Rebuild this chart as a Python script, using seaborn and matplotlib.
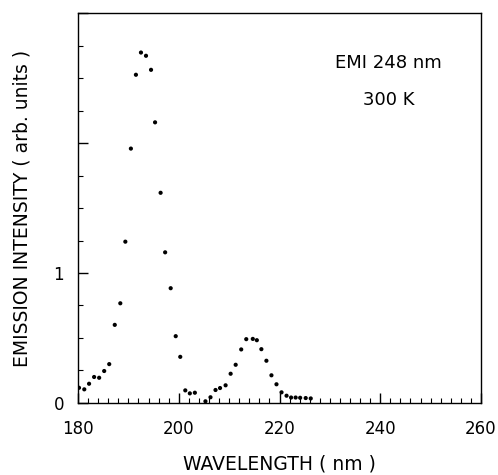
import matplotlib
matplotlib.use("Agg")
import matplotlib.pyplot as plt
from matplotlib.ticker import MultipleLocator, FixedLocator
import seaborn as sns
import pandas as pd

# Emission spectrum, excitation at 248 nm, room temperature
wavelength = [180.2, 181.25, 182.2, 183.2, 184.2, 185.2, 186.2, 187.3, 188.4, 189.4,
              190.5, 191.5, 192.5, 193.5, 194.5, 195.3, 196.4, 197.3, 198.4, 199.4,
              200.3, 201.3, 202.2, 203.2, 205.3, 206.3, 207.3, 208.2, 209.3, 210.3,
              211.3, 212.4, 213.4, 214.7, 215.5, 216.4, 217.4, 218.4, 219.4, 220.4,
              221.4, 222.3, 223.2, 224.1, 225.2, 226.2]
intensity = [0.117, 0.105, 0.148, 0.200, 0.194, 0.246, 0.299, 0.601, 0.767, 1.241,
             1.957, 2.525, 2.696, 2.671, 2.563, 2.159, 1.617, 1.159, 0.883, 0.514,
             0.355, 0.097, 0.074, 0.079, 0.013, 0.044, 0.100, 0.115, 0.136, 0.225,
             0.294, 0.412, 0.491, 0.493, 0.483, 0.414, 0.325, 0.213, 0.144, 0.082,
             0.056, 0.042, 0.042, 0.040, 0.038, 0.035]

x_ticks = [180, 200, 220, 240, 260]
y_ticks = [0, 1, 2, 3]
y_tick_labels = ["0", "1", "", ""]

df = pd.DataFrame({"wavelength": wavelength, "intensity": intensity})

sns.set_theme(style="ticks")
plt.rcParams["font.family"] = ["DejaVu Sans"]

fig = plt.figure(figsize=(4.98, 4.75), dpi=100)
ax = fig.add_axes([0.1566, 0.1516, 0.8093, 0.8210])

sns.scatterplot(data=df, x="wavelength", y="intensity", ax=ax,
                color="black", s=9, edgecolor="none", linewidth=0)

ax.set_xlim(180, 260)
ax.set_ylim(0, 3)
ax.xaxis.set_major_locator(FixedLocator(x_ticks))
ax.xaxis.set_minor_locator(MultipleLocator(2))
ax.yaxis.set_major_locator(FixedLocator(y_ticks))
ax.yaxis.set_minor_locator(MultipleLocator(0.25))
ax.set_yticklabels(y_tick_labels)

ax.tick_params(which="major", direction="in", length=7, width=1, color="black",
               labelsize=12, labelcolor="black")
ax.tick_params(axis="x", which="major", pad=12)
ax.tick_params(axis="y", which="major", pad=10)
ax.tick_params(which="minor", direction="in", length=3.5, width=0.8, color="black")

for side in ax.spines.values():
    side.set_color("black")
    side.set_linewidth(1.0)

ax.set_xlabel("WAVELENGTH ( nm )", fontsize=13.5, color="black", labelpad=12)
ax.set_ylabel("EMISSION INTENSITY ( arb. units )", fontsize=13.5, color="black",
              labelpad=16)

ax.text(0.77, 0.872, "EMI 248 nm", transform=ax.transAxes, ha="center",
        va="center", fontsize=13, color="black")
ax.text(0.77, 0.777, "300 K", transform=ax.transAxes, ha="center",
        va="center", fontsize=13, color="black")

fig.savefig("out.png", dpi=100)
